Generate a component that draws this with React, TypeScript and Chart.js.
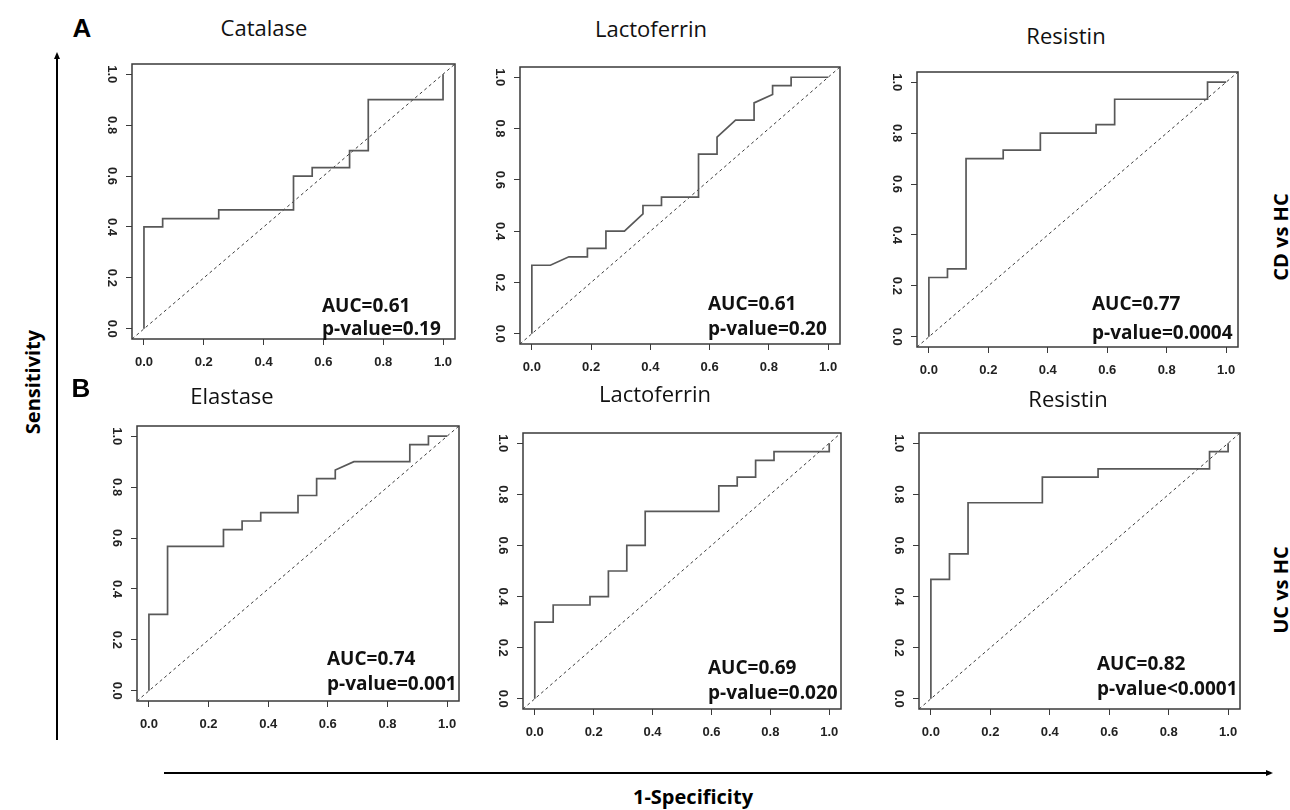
import React, { useEffect, useRef } from "react";
import { Chart, registerables } from "chart.js";

Chart.register(...registerables);

// ---- axis definition ----
const AXIS_MIN = -0.04;
const AXIS_MAX = 1.04;
const TICK_VALUES = [0, 0.2, 0.4, 0.6, 0.8, 1.0];
const TICK_LABELS = ["0.0", "0.2", "0.4", "0.6", "0.8", "1.0"];

// ---- ROC curve vertices (1-Specificity, Sensitivity) ----
const CD_CATALASE_FPR = [0, 0, 0.0625, 0.0625, 0.25, 0.25, 0.5, 0.5, 0.5625, 0.5625, 0.6875, 0.6875, 0.75, 0.75, 1.0, 1.0];
const CD_CATALASE_TPR = [0, 0.4, 0.4, 0.433, 0.433, 0.467, 0.467, 0.6, 0.6, 0.633, 0.633, 0.7, 0.7, 0.9, 0.9, 1.0];

const CD_LACTOFERRIN_FPR = [0, 0, 0.0625, 0.125, 0.1875, 0.1875, 0.25, 0.25, 0.3125, 0.375, 0.375, 0.4375, 0.4375, 0.5625, 0.5625, 0.625, 0.625, 0.6875, 0.75, 0.75, 0.8125, 0.8125, 0.875, 0.875, 1.0];
const CD_LACTOFERRIN_TPR = [0, 0.267, 0.267, 0.3, 0.3, 0.333, 0.333, 0.4, 0.4, 0.467, 0.5, 0.5, 0.533, 0.533, 0.7, 0.7, 0.767, 0.833, 0.833, 0.9, 0.933, 0.967, 0.967, 1.0, 1.0];

const CD_RESISTIN_FPR = [0, 0, 0.0625, 0.0625, 0.125, 0.125, 0.25, 0.25, 0.375, 0.375, 0.5625, 0.5625, 0.625, 0.625, 0.9375, 0.9375, 1.0];
const CD_RESISTIN_TPR = [0, 0.233, 0.233, 0.267, 0.267, 0.7, 0.7, 0.733, 0.733, 0.8, 0.8, 0.833, 0.833, 0.933, 0.933, 1.0, 1.0];

const UC_ELASTASE_FPR = [0, 0, 0.0625, 0.0625, 0.25, 0.25, 0.3125, 0.3125, 0.375, 0.375, 0.5, 0.5, 0.5625, 0.5625, 0.625, 0.625, 0.6875, 0.875, 0.875, 0.9375, 0.9375, 1.0];
const UC_ELASTASE_TPR = [0, 0.3, 0.3, 0.567, 0.567, 0.633, 0.633, 0.667, 0.667, 0.7, 0.7, 0.767, 0.767, 0.833, 0.833, 0.867, 0.9, 0.9, 0.967, 0.967, 1.0, 1.0];

const UC_LACTOFERRIN_FPR = [0, 0, 0.0625, 0.0625, 0.1875, 0.1875, 0.25, 0.25, 0.3125, 0.3125, 0.375, 0.375, 0.625, 0.625, 0.6875, 0.6875, 0.75, 0.75, 0.8125, 0.8125, 1.0, 1.0];
const UC_LACTOFERRIN_TPR = [0, 0.3, 0.3, 0.367, 0.367, 0.4, 0.4, 0.5, 0.5, 0.6, 0.6, 0.733, 0.733, 0.833, 0.833, 0.867, 0.867, 0.933, 0.933, 0.967, 0.967, 1.0];

const UC_RESISTIN_FPR = [0, 0, 0.0625, 0.0625, 0.125, 0.125, 0.375, 0.375, 0.5625, 0.5625, 0.9375, 0.9375, 1.0, 1.0];
const UC_RESISTIN_TPR = [0, 0.467, 0.467, 0.567, 0.567, 0.767, 0.767, 0.867, 0.867, 0.9, 0.9, 0.967, 0.967, 1.0];

// ---- texts ----
const PANEL_TITLES = ["Catalase", "Lactoferrin", "Resistin", "Elastase", "Lactoferrin", "Resistin"];
const AUC_LABELS = ["AUC=0.61", "AUC=0.61", "AUC=0.77", "AUC=0.74", "AUC=0.69", "AUC=0.82"];
const P_LABELS = ["p-value=0.19", "p-value=0.20", "p-value=0.0004", "p-value=0.001", "p-value=0.020", "p-value<0.0001"];
const ROW_LABELS = ["A", "B"];
const GROUP_LABELS = ["CD vs HC", "UC vs HC"];
const Y_TITLE = "Sensitivity";
const X_TITLE = "1-Specificity";

const CURVES_FPR = [CD_CATALASE_FPR, CD_LACTOFERRIN_FPR, CD_RESISTIN_FPR, UC_ELASTASE_FPR, UC_LACTOFERRIN_FPR, UC_RESISTIN_FPR];
const CURVES_TPR = [CD_CATALASE_TPR, CD_LACTOFERRIN_TPR, CD_RESISTIN_TPR, UC_ELASTASE_TPR, UC_LACTOFERRIN_TPR, UC_RESISTIN_TPR];

// ---- layout (plot boxes in page pixels) ----
const BOXES = [
  { left: 132, top: 64, w: 323, h: 275 },
  { left: 520, top: 67, w: 320, h: 277 },
  { left: 917, top: 72, w: 321, h: 275 },
  { left: 137, top: 426, w: 322, h: 275 },
  { left: 523, top: 433, w: 318, h: 276 },
  { left: 919, top: 433, w: 321, h: 276 },
];
const TITLE_POS = [
  { x: 264, y: 27 }, { x: 651, y: 28 }, { x: 1066, y: 35 },
  { x: 232, y: 395 }, { x: 655, y: 393 }, { x: 1068, y: 398 },
];
const AUC_POS = [
  { x: 322, y: 305, py: 328 }, { x: 708, y: 303, py: 328 }, { x: 1092, y: 303, py: 332 },
  { x: 327, y: 658, py: 683 }, { x: 708, y: 667, py: 692 }, { x: 1097, y: 663, py: 688 },
];

const YW = 48;
const XH = 46;
const PT = 16;
const PR = 16;

const TITLE_FONT = "'Open Sans', 'Lato', sans-serif";
const TICK_FONT = { family: "'Liberation Sans', Arial, sans-serif", size: 13, weight: "bold" as const };

const boxPlugin = {
  id: "plotBox",
  afterDraw(chart: any) {
    const { ctx, chartArea: a } = chart;
    ctx.save();
    ctx.strokeStyle = "#3a3a3a";
    ctx.lineWidth = 1.5;
    ctx.strokeRect(a.left, a.top, a.right - a.left, a.bottom - a.top);
    ctx.restore();
  },
};

function RocPanel({ fpr, tpr, box }: { fpr: number[]; tpr: number[]; box: { left: number; top: number; w: number; h: number } }) {
  const ref = useRef<HTMLCanvasElement>(null);
  const cw = YW + box.w + PR;
  const ch = PT + box.h + XH;
  useEffect(() => {
    if (!ref.current) return;
    const chart = new Chart(ref.current, {
      type: "scatter",
      data: {
        datasets: [
          {
            data: fpr.map((x, i) => ({ x, y: tpr[i] })),
            showLine: true,
            borderColor: "#585858",
            borderWidth: 1.7,
            pointRadius: 0,
            tension: 0,
          },
          {
            data: [
              { x: AXIS_MIN, y: AXIS_MIN },
              { x: AXIS_MAX, y: AXIS_MAX },
            ],
            showLine: true,
            borderColor: "#3a3a3a",
            borderWidth: 1,
            borderDash: [3, 3],
            pointRadius: 0,
          },
        ],
      },
      options: {
        animation: false,
        responsive: false,
        maintainAspectRatio: false,
        layout: { padding: { top: PT, right: PR, left: 0, bottom: 0 } },
        plugins: { legend: { display: false }, tooltip: { enabled: false } },
        scales: {
          x: {
            type: "linear",
            min: AXIS_MIN,
            max: AXIS_MAX,
            afterBuildTicks: (s: any) => {
              s.ticks = TICK_VALUES.map((v) => ({ value: v }));
            },
            afterFit: (s: any) => {
              s.height = XH;
            },
            grid: { display: true, drawOnChartArea: false, drawTicks: true, tickLength: 6, color: "#3a3a3a", lineWidth: 1 },
            border: { display: false },
            ticks: {
              autoSkip: false,
              maxRotation: 0,
              minRotation: 0,
              padding: 10,
              color: "#222",
              font: TICK_FONT,
              callback: (_v: any, i: number) => TICK_LABELS[i],
            },
          },
          y: {
            type: "linear",
            min: AXIS_MIN,
            max: AXIS_MAX,
            afterBuildTicks: (s: any) => {
              s.ticks = TICK_VALUES.map((v) => ({ value: v }));
            },
            afterFit: (s: any) => {
              s.width = YW;
            },
            grid: { display: true, drawOnChartArea: false, drawTicks: true, tickLength: 6, color: "#3a3a3a", lineWidth: 1 },
            border: { display: false },
            ticks: {
              autoSkip: false,
              minRotation: -90,
              maxRotation: -90,
              crossAlign: "center",
              padding: 5,
              color: "#222",
              font: TICK_FONT,
              callback: (_v: any, i: number) => TICK_LABELS[i],
            },
          },
        },
      } as any,
      plugins: [boxPlugin],
    });
    return () => chart.destroy();
  }, []);
  return (
    <canvas
      ref={ref}
      width={cw}
      height={ch}
      style={{ position: "absolute", left: box.left - YW, top: box.top - PT, width: cw, height: ch }}
    />
  );
}

const abs = (x: number, y: number, extra: React.CSSProperties = {}): React.CSSProperties => ({
  position: "absolute",
  left: x,
  top: y,
  whiteSpace: "nowrap",
  lineHeight: 1,
  ...extra,
});

export default function App() {
  return (
    <div style={{ position: "absolute", left: 0, top: 0, width: 1290, height: 810, background: "#fff", overflow: "hidden" }}>
      {BOXES.map((b, i) => (
        <RocPanel key={i} fpr={CURVES_FPR[i]} tpr={CURVES_TPR[i]} box={b} />
      ))}
      {PANEL_TITLES.map((t, i) => (
        <div key={"t" + i} style={abs(TITLE_POS[i].x, TITLE_POS[i].y, { transform: "translate(-50%,-50%)", fontFamily: TITLE_FONT, fontSize: 22, color: "#111" })}>
          {t}
        </div>
      ))}
      {AUC_LABELS.map((t, i) => (
        <div key={"a" + i} style={abs(AUC_POS[i].x, AUC_POS[i].y, { transform: "translateY(-50%)", fontFamily: TITLE_FONT, fontWeight: 700, fontSize: 19, color: "#111" })}>
          {t}
        </div>
      ))}
      {P_LABELS.map((t, i) => (
        <div key={"p" + i} style={abs(AUC_POS[i].x, AUC_POS[i].py, { transform: "translateY(-50%)", fontFamily: TITLE_FONT, fontWeight: 700, fontSize: 19, color: "#111" })}>
          {t}
        </div>
      ))}
      <div style={abs(82, 28, { transform: "translate(-50%,-50%)", fontFamily: "'Liberation Sans', Arial, sans-serif", fontWeight: 900, fontSize: 26, color: "#000" })}>{ROW_LABELS[0]}</div>
      <div style={abs(81, 388, { transform: "translate(-50%,-50%)", fontFamily: "'Liberation Sans', Arial, sans-serif", fontWeight: 900, fontSize: 26, color: "#000" })}>{ROW_LABELS[1]}</div>
      <div style={abs(33, 382, { transform: "translate(-50%,-50%) rotate(-90deg)", fontFamily: TITLE_FONT, fontWeight: 700, fontSize: 20, color: "#000" })}>{Y_TITLE}</div>
      <div style={abs(1281, 237, { transform: "translate(-50%,-50%) rotate(-90deg)", fontFamily: TITLE_FONT, fontWeight: 700, fontSize: 20, color: "#000" })}>{GROUP_LABELS[0]}</div>
      <div style={abs(1281, 590, { transform: "translate(-50%,-50%) rotate(-90deg)", fontFamily: TITLE_FONT, fontWeight: 700, fontSize: 20, color: "#000" })}>{GROUP_LABELS[1]}</div>
      <div style={abs(693, 797, { transform: "translate(-50%,-50%)", fontFamily: TITLE_FONT, fontWeight: 700, fontSize: 20, color: "#000" })}>{X_TITLE}</div>
      {/* axis arrows */}
      <div style={{ position: "absolute", left: 56, top: 58, width: 1.5, height: 682, background: "#000" }} />
      <div style={{ position: "absolute", left: 53.5, top: 52, width: 0, height: 0, borderLeft: "3px solid transparent", borderRight: "3px solid transparent", borderBottom: "7px solid #000" }} />
      <div style={{ position: "absolute", left: 164, top: 772, width: 1104, height: 1.5, background: "#000" }} />
      <div style={{ position: "absolute", left: 1266, top: 769.5, width: 0, height: 0, borderTop: "3px solid transparent", borderBottom: "3px solid transparent", borderLeft: "7px solid #000" }} />
    </div>
  );
}
